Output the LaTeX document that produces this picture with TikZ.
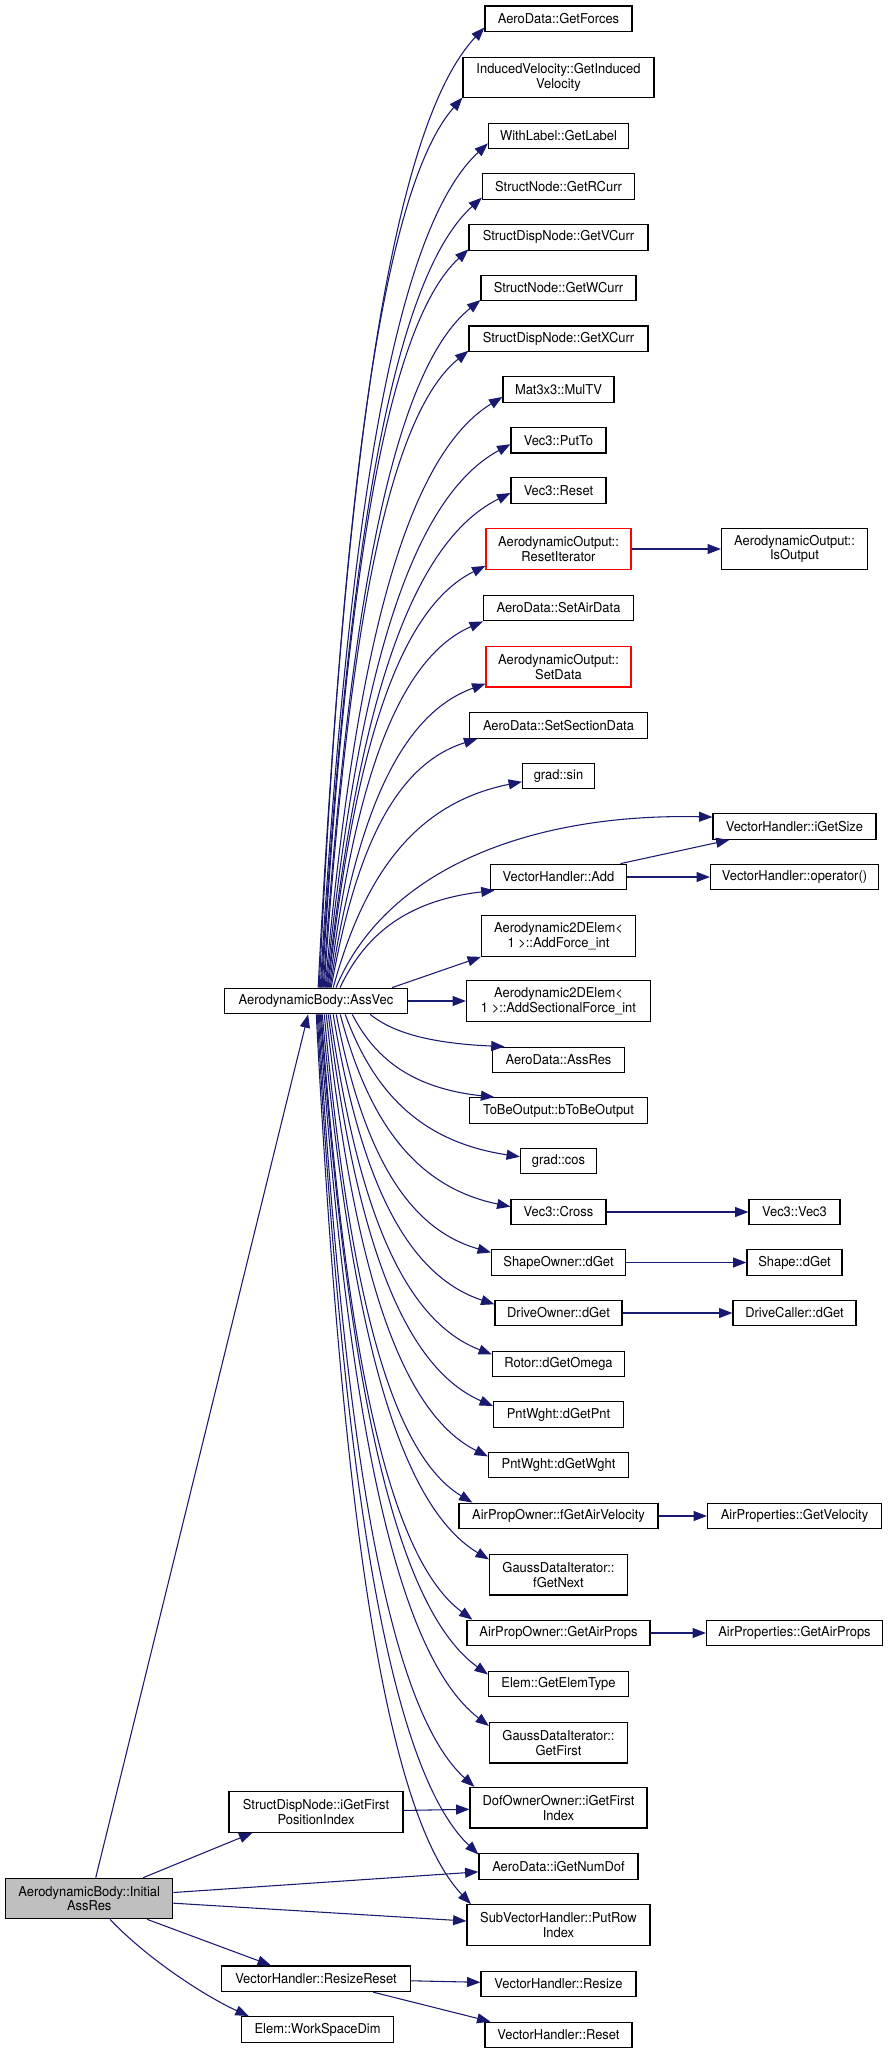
\documentclass[tikz,border=0pt]{standalone}
\usepackage{fontspec}
\setmainfont[FakeStretch=0.95]{TeX Gyre Heros}
\usepackage{tikz}
\usepackage{xcolor}
\usetikzlibrary{arrows.meta}
\usetikzlibrary{calc}
\definecolor{edgeBlue}{HTML}{191970}
\definecolor{rootGray}{HTML}{BFBFBF}
\tikzset{
   funcBox/.style={draw=black, line width=0.9pt, fill=white, align=center, inner xsep=0pt, inner ysep=0pt, minimum height=19.2pt, font=\fontsize{10.2}{11}\selectfont},
   twoLine/.style={minimum height=30.4pt},
   boxWidth/.style={minimum width=#1*0.75pt},
   redBox/.style={draw=red},
   rootBox/.style={fill=rootGray},
   callArrow/.style={draw=edgeBlue, line width=0.8pt, -{Triangle[length=10pt,width=7.5pt]}},
}
\newcommand{\callcurve}[3][]{%
   \draw[callArrow,#1] let \p1=(#2), \p2=(#3) in (\p1) .. controls ({\x1+0.15*(\x2-\x1)},{\y1+0.5*(\y2-\y1)}) and ({\x2-0.6*(\x2-\x1)},{\y2-0.11*(\y2-\y1)}) .. (\p2)
}

\begin{document}
\begin{tikzpicture}[x=0.75pt,y=-0.75pt]
					\useasboundingbox (0,0) rectangle (888,2053);
					%
					% callees of AssVec
					%
					\node[funcBox, boxWidth=147] (getForces) at (558.5,18.7) {AeroData::GetForces};
					\node[funcBox, twoLine, boxWidth=191] (getInducedVel) at (558.5,77.4) {InducedVelocity::GetInduced\\Velocity};
					\node[funcBox, boxWidth=140] (getLabel) at (558.5,136) {WithLabel::GetLabel};
					\node[funcBox, boxWidth=152] (getRCurr) at (558.5,186.5) {StructNode::GetRCurr};
					\node[funcBox, boxWidth=179] (getVCurr) at (558.5,237.3) {StructDispNode::GetVCurr};
					\node[funcBox, boxWidth=155] (getWCurr) at (558.5,288) {StructNode::GetWCurr};
					\node[funcBox, boxWidth=179] (getXCurr) at (558.5,338.7) {StructDispNode::GetXCurr};
					\node[funcBox, boxWidth=111] (mulTV) at (558.5,389.5) {Mat3x3::MulTV};
					\node[funcBox, boxWidth=95] (putTo) at (558.5,440.2) {Vec3::PutTo};
					\node[funcBox, boxWidth=95] (vecReset) at (558.5,490.5) {Vec3::Reset};
					\node[funcBox, twoLine, redBox, boxWidth=145] (resetIter) at (558.5,549) {AerodynamicOutput::\\ResetIterator};
					\node[funcBox, boxWidth=150] (setAirData) at (558.5,608) {AeroData::SetAirData};
					\node[funcBox, twoLine, redBox, boxWidth=145] (setData) at (558.5,666.7) {AerodynamicOutput::\\SetData};
					\node[funcBox, boxWidth=178] (setSectionData) at (558.5,725.4) {AeroData::SetSectionData};
					\node[funcBox, boxWidth=72] (gradSin) at (558.5,776) {grad::sin};
					\node[funcBox, boxWidth=136] (vhAdd) at (558.5,877) {VectorHandler::Add};
					\node[funcBox, twoLine, boxWidth=154] (addForce) at (558.5,936) {Aerodynamic2DElem<\\ 1 >::AddForce\_int};
					\node[funcBox, twoLine, boxWidth=184] (addSectForce) at (558.5,1001) {Aerodynamic2DElem<\\ 1 >::AddSectionalForce\_int};
					\node[funcBox, boxWidth=132] (adAssRes) at (558.5,1060) {AeroData::AssRes};
					\node[funcBox, boxWidth=178] (toBeOutput) at (558.5,1110.5) {ToBeOutput::bToBeOutput};
					\node[funcBox, boxWidth=76] (gradCos) at (558.5,1161) {grad::cos};
					\node[funcBox, boxWidth=95] (vecCross) at (558.5,1212) {Vec3::Cross};
					\node[funcBox, boxWidth=134] (shapeOwnerGet) at (558.5,1262.5) {ShapeOwner::dGet};
					\node[funcBox, boxWidth=127] (driveOwnerGet) at (558.5,1313) {DriveOwner::dGet};
					\node[funcBox, boxWidth=132] (rotorOmega) at (558.5,1364) {Rotor::dGetOmega};
					\node[funcBox, boxWidth=130] (dGetPnt) at (558.5,1414.5) {PntWght::dGetPnt};
					\node[funcBox, boxWidth=140] (dGetWght) at (558.5,1465) {PntWght::dGetWght};
					\node[funcBox, boxWidth=199] (fGetAirVel) at (558.5,1516) {AirPropOwner::fGetAirVelocity};
					\node[funcBox, twoLine, boxWidth=138] (fGetNext) at (558.5,1574.7) {GaussDataIterator::\\fGetNext};
					\node[funcBox, boxWidth=183] (getAirProps) at (558.5,1633) {AirPropOwner::GetAirProps};
					\node[funcBox, boxWidth=140] (getElemType) at (558.5,1684) {Elem::GetElemType};
					\node[funcBox, twoLine, boxWidth=138] (getFirst) at (558.5,1742.7) {GaussDataIterator::\\GetFirst};
					\node[funcBox, twoLine, boxWidth=177] (iGetFirstIndex) at (558.5,1807.7) {DofOwnerOwner::iGetFirst\\Index};
					\node[funcBox, boxWidth=159] (iGetNumDof) at (558.5,1866.5) {AeroData::iGetNumDof};
					\node[funcBox, twoLine, boxWidth=183] (putRowIndex) at (558.5,1925) {SubVectorHandler::PutRow\\Index};
					\node[funcBox, boxWidth=155] (vhResize) at (558.5,1984) {VectorHandler::Resize};
					\node[funcBox, boxWidth=147] (vhReset) at (558.5,2035) {VectorHandler::Reset};
					%
					% third column, on the rows of their callers
					%
					\coordinate (colC) at (794.5,0);
					\coordinate (sizeRow) at ($(gradSin)!0.5!(vhAdd)$);
					\node[funcBox, twoLine, boxWidth=146] (isOutput) at (colC |- resetIter) {AerodynamicOutput::\\IsOutput};
					\node[funcBox, boxWidth=163] (iGetSize) at (colC |- sizeRow) {VectorHandler::iGetSize};
					\node[funcBox, boxWidth=168] (operatorCall) at (colC |- vhAdd) {VectorHandler::operator()};
					\node[funcBox, boxWidth=91] (vec3Ctor) at (colC |- vecCross) {Vec3::Vec3};
					\node[funcBox, boxWidth=95] (shapeGet) at (colC |- shapeOwnerGet) {Shape::dGet};
					\node[funcBox, boxWidth=123] (driveCallerGet) at (colC |- driveOwnerGet) {DriveCaller::dGet};
					\node[funcBox, boxWidth=174] (airPropVel) at (colC |- fGetAirVel) {AirProperties::GetVelocity};
					\node[funcBox, boxWidth=176] (airPropProps) at (colC |- getAirProps) {AirProperties::GetAirProps};
					%
					% first column and root
					%
					\node[funcBox, boxWidth=183] (assVec) at (316,1001) {AerodynamicBody::AssVec};
					\node[funcBox, twoLine, boxWidth=174] (iGetFirstPos) at (316,1812) {StructDispNode::iGetFirst\\PositionIndex};
					\node[funcBox, boxWidth=189] (resizeReset) at (316,1978.7) {VectorHandler::ResizeReset};
					\node[funcBox, boxWidth=152] (workSpaceDim) at (317.6,2029.4) {Elem::WorkSpaceDim};
					\node[funcBox, twoLine, rootBox, boxWidth=167] (initialAssRes) at (89.2,1898.5) {AerodynamicBody::Initial\\AssRes};
					%
					% AssVec upwards
					%
					\callcurve{[xshift=1.6pt]assVec.north}{[yshift=3.4pt]getForces.south west};
					\callcurve{[xshift=2.4pt]assVec.north}{[yshift=0.5pt]getInducedVel.south west};
					\callcurve{[xshift=3.2pt]assVec.north}{[yshift=4.5pt]getLabel.south west};
					\callcurve{[xshift=3.9pt]assVec.north}{[yshift=1.7pt]getRCurr.south west};
					\callcurve{[xshift=4.6pt]assVec.north}{[yshift=1pt]getVCurr.south west};
					\callcurve{[xshift=5.4pt]assVec.north}{[yshift=1pt]getWCurr.south west};
					\callcurve{[xshift=6.1pt]assVec.north}{[yshift=1pt]getXCurr.south west};
					\callcurve{[xshift=6.9pt]assVec.north}{[yshift=-5.6pt]mulTV.west};
					\callcurve{[xshift=7.6pt]assVec.north}{[yshift=-3pt]putTo.west};
					\callcurve{[xshift=8.4pt]assVec.north}{[yshift=-1.9pt]vecReset.west};
					\callcurve{[xshift=9.1pt]assVec.north}{[yshift=3pt]resetIter.south west};
					\callcurve{[xshift=9.9pt]assVec.north}{setAirData.south west};
					\callcurve{[xshift=10.6pt]assVec.north}{[yshift=2.9pt]setData.south west};
					\callcurve{[xshift=11.4pt]assVec.north}{[xshift=6.3pt]setSectionData.south west};
					\callcurve{[xshift=12.9pt]assVec.north}{[yshift=-4.3pt]gradSin.west};
					\draw[callArrow] ([xshift=15pt]assVec.north) .. controls +(50,-120) and +(-180,-4) .. ([yshift=7.1pt]iGetSize.west);
					\callcurve{[xshift=18pt]assVec.north}{[xshift=3.5pt]vhAdd.south west};
					\draw[callArrow] ([xshift=-12pt]assVec.north east) -- (addForce.south west);
					\draw[callArrow] (assVec.east) -- (addSectForce.west);
					%
					% AssVec downwards
					%
					\callcurve{[xshift=40.6pt]assVec.south}{[xshift=9.5pt]adAssRes.north west};
					\callcurve{[xshift=27.2pt]assVec.south}{[xshift=19pt]toBeOutput.north west};
					\callcurve{[xshift=21.9pt]assVec.south}{[yshift=3.2pt]gradCos.west};
					\callcurve{[xshift=18.2pt]assVec.south}{[yshift=4pt]vecCross.west};
					\callcurve{[xshift=15.2pt]assVec.south}{[yshift=-2.5pt]shapeOwnerGet.north west};
					\callcurve{[xshift=12.9pt]assVec.south}{[yshift=-3.5pt]driveOwnerGet.north west};
					\callcurve{[xshift=10.6pt]assVec.south}{[yshift=-2.9pt]rotorOmega.north west};
					\callcurve{[xshift=9.2pt]assVec.south}{[yshift=-3.7pt]dGetPnt.north west};
					\callcurve{[xshift=7.7pt]assVec.south}{[yshift=-3.6pt]dGetWght.north west};
					\callcurve{[xshift=6.2pt]assVec.south}{[xshift=10.5pt]fGetAirVel.north west};
					\callcurve{[xshift=4.7pt]assVec.south}{[yshift=-4.2pt]fGetNext.north west};
					\callcurve{[xshift=3.9pt]assVec.south}{[xshift=4.5pt]getAirProps.north west};
					\callcurve{[xshift=3.2pt]assVec.south}{[yshift=-2.9pt]getElemType.north west};
					\callcurve{[xshift=2.4pt]assVec.south}{[yshift=-3.1pt]getFirst.north west};
					\callcurve{[xshift=1.7pt]assVec.south}{[xshift=3.7pt]iGetFirstIndex.north west};
					\callcurve{[xshift=0.9pt]assVec.south}{[yshift=-1pt]iGetNumDof.north west};
					\callcurve{[xshift=0.2pt]assVec.south}{[xshift=3.4pt]putRowIndex.north west};
					%
					% second level calls
					%
					\draw[callArrow] (resetIter) -- (isOutput);
					\draw[callArrow] ([xshift=-5pt]vhAdd.north east) -- ([xshift=12.75pt]iGetSize.south west);
					\draw[callArrow] (vhAdd) -- (operatorCall);
					\draw[callArrow] (vecCross) -- (vec3Ctor);
					\draw[callArrow] (shapeOwnerGet) -- (shapeGet);
					\draw[callArrow] (driveOwnerGet) -- (driveCallerGet);
					\draw[callArrow] (fGetAirVel) -- (airPropVel);
					\draw[callArrow] (getAirProps) -- (airPropProps);
					%
					% calls of the root
					%
					\draw[callArrow] ([xshift=4.9pt]initialAssRes.north) -- ([xshift=-5.9pt]assVec.south);
					\draw[callArrow] ([xshift=40.5pt]initialAssRes.north) -- ([xshift=18pt]iGetFirstPos.south west);
					\draw[callArrow] ([yshift=4.5pt]initialAssRes.east) -- ([yshift=-4pt]iGetNumDof.west);
					\draw[callArrow] ([yshift=-3.5pt]initialAssRes.east) -- ([yshift=3pt]putRowIndex.west);
					\draw[callArrow] ([xshift=43.5pt]initialAssRes.south) -- ([xshift=37.5pt]resizeReset.north west);
					\draw[callArrow] ([xshift=15.6pt]initialAssRes.south) .. controls +(40,42) and +(-40,-18) .. ([xshift=5.8pt]workSpaceDim.north west);
					\draw[callArrow] (iGetFirstPos) -- (iGetFirstIndex);
					\draw[callArrow] (resizeReset) -- (vhResize);
					\draw[callArrow] ([xshift=-28.5pt]resizeReset.south east) -- ([xshift=4.5pt]vhReset.north west);
\end{tikzpicture}
\end{document}
